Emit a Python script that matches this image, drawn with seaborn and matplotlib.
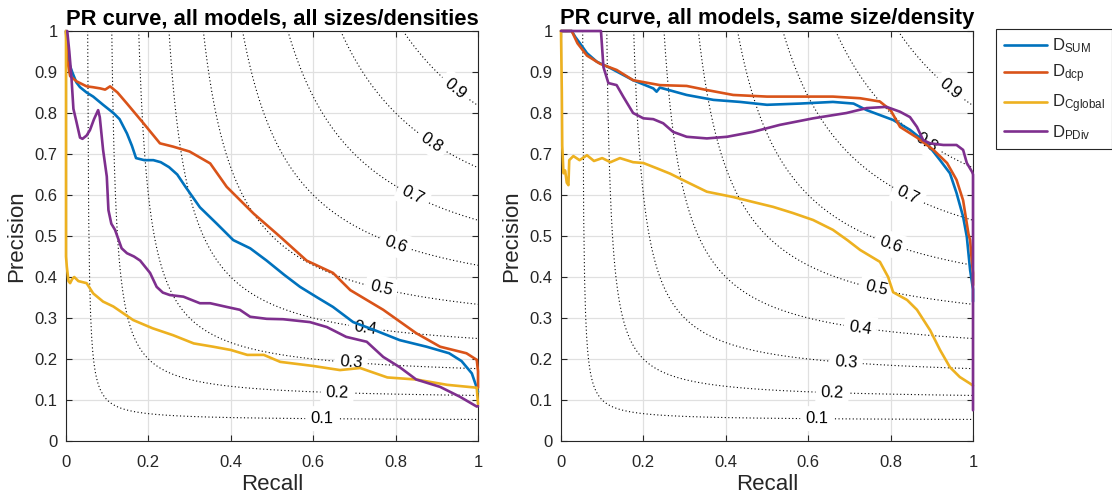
import numpy as np
import pandas as pd
import matplotlib
matplotlib.use("Agg")
import matplotlib.pyplot as plt
import seaborn as sns

# ---------------- data ----------------
MODELS = ["D$_{SUM}$", "D$_{dcp}$", "D$_{Cglobal}$", "D$_{PDiv}$"]
COLORS = ["#0072BD", "#D95319", "#EDB120", "#7E2F8E"]
TITLES = ["PR curve, all models, all sizes/densities",
          "PR curve, all models, same size/density"]
F_LEVELS = [0.9, 0.8, 0.7, 0.6, 0.5, 0.4, 0.3, 0.2, 0.1]
LABEL_RECALL = [0.944, 0.888, 0.842, 0.80, 0.765, 0.726, 0.692, 0.658, 0.621]
X_TICKS = [0, 0.2, 0.4, 0.6, 0.8, 1]
Y_TICKS = [0, 0.1, 0.2, 0.3, 0.4, 0.5, 0.6, 0.7, 0.8, 0.9, 1]

# left panel
sum_r_l = [0.0, 0.003, 0.008, 0.015, 0.025, 0.034, 0.05, 0.066, 0.09, 0.115, 0.13, 0.148, 0.16, 0.17,
           0.19, 0.212, 0.23, 0.25, 0.27, 0.29, 0.325, 0.366, 0.406, 0.447, 0.487, 0.53, 0.568, 0.61,
           0.648, 0.697, 0.75, 0.81, 0.875, 0.93, 0.96, 0.985, 0.997, 1.0]
sum_p_l = [1.0, 0.96, 0.92, 0.90, 0.875, 0.863, 0.85, 0.84, 0.82, 0.80, 0.785, 0.75, 0.72, 0.69,
           0.685, 0.685, 0.68, 0.668, 0.65, 0.62, 0.57, 0.53, 0.49, 0.47, 0.44, 0.405, 0.376, 0.35,
           0.327, 0.29, 0.27, 0.246, 0.23, 0.214, 0.195, 0.165, 0.13, 0.12]
dcp_r_l = [0.0, 0.003, 0.01, 0.026, 0.05, 0.065, 0.083, 0.095, 0.107, 0.125, 0.148, 0.188, 0.228, 0.26,
           0.30, 0.35, 0.39, 0.455, 0.52, 0.584, 0.648, 0.69, 0.77, 0.85, 0.908, 0.972, 0.997, 1.0, 1.0]
dcp_p_l = [1.0, 0.93, 0.89, 0.877, 0.865, 0.863, 0.86, 0.857, 0.865, 0.85, 0.823, 0.775, 0.726, 0.718,
           0.706, 0.677, 0.62, 0.555, 0.498, 0.44, 0.41, 0.368, 0.32, 0.263, 0.23, 0.214, 0.198, 0.17, 0.13]
cgl_r_l = [0.0, 0.0, 0.002, 0.006, 0.01, 0.015, 0.02, 0.03, 0.05, 0.066, 0.09, 0.115, 0.163, 0.21, 0.26,
           0.31, 0.357, 0.40, 0.44, 0.48, 0.52, 0.6, 0.665, 0.714, 0.78, 0.85, 0.925, 0.997, 1.0]
cgl_p_l = [1.0, 0.45, 0.425, 0.39, 0.385, 0.395, 0.40, 0.39, 0.385, 0.36, 0.34, 0.328, 0.295, 0.275,
           0.258, 0.238, 0.23, 0.222, 0.21, 0.21, 0.193, 0.183, 0.173, 0.178, 0.155, 0.15, 0.137, 0.13, 0.09]
pdv_r_l = [0.003, 0.008, 0.013, 0.018, 0.025, 0.034, 0.04, 0.05, 0.058, 0.068, 0.078, 0.082, 0.09, 0.099,
           0.103, 0.11, 0.119, 0.135, 0.148, 0.165, 0.18, 0.204, 0.22, 0.235, 0.252, 0.285, 0.325, 0.35,
           0.39, 0.422, 0.447, 0.487, 0.527, 0.592, 0.633, 0.68, 0.73, 0.77, 0.81, 0.85, 0.908, 0.956,
           0.997, 1.0]
pdv_p_l = [1.0, 0.95, 0.89, 0.81, 0.78, 0.74, 0.737, 0.745, 0.758, 0.785, 0.807, 0.79, 0.71, 0.645,
           0.563, 0.53, 0.515, 0.47, 0.458, 0.45, 0.44, 0.41, 0.376, 0.362, 0.356, 0.352, 0.336, 0.336,
           0.327, 0.32, 0.303, 0.298, 0.297, 0.29, 0.278, 0.254, 0.242, 0.205, 0.18, 0.15, 0.132, 0.108,
           0.084, 0.085]

# right panel
sum_r_r = [0.0, 0.026, 0.035, 0.046, 0.063, 0.087, 0.119, 0.175, 0.224, 0.232, 0.24, 0.305, 0.37, 0.435,
           0.50, 0.58, 0.66, 0.71, 0.742, 0.806, 0.847, 0.888, 0.92, 0.944, 0.96, 0.976, 0.985, 0.993,
           1.0, 1.0]
sum_p_r = [1.0, 1.0, 0.985, 0.97, 0.946, 0.925, 0.91, 0.88, 0.86, 0.852, 0.862, 0.844, 0.832, 0.827,
           0.82, 0.823, 0.827, 0.823, 0.807, 0.783, 0.759, 0.726, 0.685, 0.653, 0.605, 0.547, 0.498,
           0.417, 0.37, 0.34]
dcp_r_r = [0.0, 0.026, 0.04, 0.063, 0.095, 0.135, 0.175, 0.24, 0.305, 0.354, 0.418, 0.50, 0.58, 0.66,
           0.726, 0.774, 0.80, 0.823, 0.864, 0.904, 0.937, 0.96, 0.976, 0.989, 0.993, 0.997, 1.0, 1.0]
dcp_p_r = [1.0, 1.0, 0.97, 0.94, 0.92, 0.905, 0.88, 0.868, 0.866, 0.856, 0.844, 0.84, 0.84, 0.84,
           0.836, 0.828, 0.807, 0.766, 0.74, 0.71, 0.678, 0.637, 0.587, 0.505, 0.49, 0.44, 0.41, 0.38]
cgl_r_r = [0.0, 0.002, 0.003, 0.006, 0.01, 0.014, 0.018, 0.02, 0.03, 0.045, 0.063, 0.08, 0.1, 0.12,
           0.143, 0.175, 0.2, 0.233, 0.265, 0.305, 0.354, 0.418, 0.466, 0.515, 0.563, 0.612, 0.66,
           0.695, 0.726, 0.774, 0.794, 0.806, 0.84, 0.864, 0.896, 0.92, 0.944, 0.968, 0.993, 1.0]
cgl_p_r = [1.0, 0.85, 0.72, 0.653, 0.66, 0.63, 0.624, 0.685, 0.695, 0.685, 0.697, 0.683, 0.69, 0.68,
           0.69, 0.68, 0.678, 0.665, 0.652, 0.632, 0.608, 0.595, 0.583, 0.571, 0.556, 0.539, 0.515,
           0.49, 0.466, 0.437, 0.40, 0.363, 0.344, 0.32, 0.27, 0.222, 0.18, 0.156, 0.14, 0.135]
pdv_r_r = [0.0, 0.097, 0.103, 0.115, 0.135, 0.151, 0.175, 0.2, 0.224, 0.248, 0.272, 0.305, 0.354, 0.403,
           0.466, 0.531, 0.612, 0.693, 0.742, 0.79, 0.823, 0.847, 0.864, 0.879, 0.896, 0.928, 0.96,
           0.976, 0.985, 0.998, 1.0, 1.0]
pdv_p_r = [1.0, 1.0, 0.912, 0.873, 0.868, 0.84, 0.80, 0.787, 0.785, 0.775, 0.754, 0.742, 0.738, 0.742,
           0.754, 0.771, 0.787, 0.80, 0.812, 0.815, 0.803, 0.79, 0.766, 0.734, 0.726, 0.722, 0.722,
           0.71, 0.678, 0.656, 0.65, 0.075]

PANELS = [
    [(sum_r_l, sum_p_l), (dcp_r_l, dcp_p_l), (cgl_r_l, cgl_p_l), (pdv_r_l, pdv_p_l)],
    [(sum_r_r, sum_p_r), (dcp_r_r, dcp_p_r), (cgl_r_r, cgl_p_r), (pdv_r_r, pdv_p_r)],
]

# ---------------- style ----------------
sns.set_theme(style="whitegrid")
plt.rcParams["font.family"] = ["Liberation Sans", "DejaVu Sans"]
plt.rcParams["mathtext.default"] = "regular"
DARK = "#262626"

W, H = 1112, 497
fig = plt.figure(figsize=(W / 100, H / 100), dpi=100)
fig.patch.set_facecolor("white")
ax_rects = [(66, 31, 478, 441), (561, 31, 973, 441)]
axes = []
for (x0, y0, x1, y1) in ax_rects:
    axes.append(fig.add_axes([x0 / W, 1 - y1 / H, (x1 - x0) / W, (y1 - y0) / H]))

for k, ax in enumerate(axes):
    rows = []
    for name, (r, p) in zip(MODELS, PANELS[k]):
        for i, (ri, pi) in enumerate(zip(r, p)):
            rows.append({"Recall": ri, "Precision": pi, "model": name, "order": i})
    df = pd.DataFrame(rows)
    sns.lineplot(data=df, x="Recall", y="Precision", hue="model", palette=COLORS,
                 hue_order=MODELS, sort=False, estimator=None, units=None,
                 linewidth=1.9, ax=ax, legend=(k == 1), zorder=3)
    for ln in ax.get_lines():
        ln.set_clip_on(False)

    ax.set_xlim(0, 1)
    ax.set_ylim(0, 1)
    ax.set_facecolor("white")
    ax.set_axisbelow(True)
    ax.grid(True, color="#e0e0e0", linewidth=0.9)
    ax.set_xticks(X_TICKS)
    ax.set_yticks(Y_TICKS)
    ax.set_xticklabels([f"{t:g}" for t in X_TICKS])
    ax.set_yticklabels([f"{t:g}" for t in Y_TICKS])
    ax.tick_params(direction="in", length=4, width=0.8, colors=DARK, labelsize=12,
                   top=True, right=True, bottom=True, left=True)
    ax.tick_params(axis="x", pad=10)
    ax.tick_params(axis="y", pad=6)
    for s in ax.spines.values():
        s.set_color(DARK)
        s.set_linewidth(0.8)
        s.set_visible(True)
    ax.set_xlabel("Recall", fontsize=16, color=DARK, labelpad=3)
    ax.set_ylabel("Precision", fontsize=16, color=DARK, labelpad=5)
    ax.set_title(TITLES[k], fontsize=15.8, fontweight="bold", color="black", pad=5)

    # iso-F1 contours
    for f, rl in zip(F_LEVELS, LABEL_RECALL):
        rr = np.linspace(f / (2 - f), 1, 400)
        pp = f * rr / (2 * rr - f)
        ax.plot(rr, pp, linestyle=(0, (1, 2.2)), color="black", linewidth=0.8, zorder=1)
        pl = f * rl / (2 * rl - f)
        slope = -f ** 2 / (2 * rl - f) ** 2
        ang = np.degrees(np.arctan2(slope * 410, 412))
        ax.text(rl, pl, f"{f:g}", fontsize=12, color="black", rotation=ang,
                rotation_mode="anchor", ha="center", va="center", zorder=2,
                bbox=dict(boxstyle="square,pad=0.3", fc="white", ec="none"))

# legend
leg = axes[1].get_legend()
handles = leg.legend_handles
leg.remove()
fig.legend(handles, MODELS, loc="upper left", bbox_to_anchor=(996 / W, 1 - 29 / H),
           frameon=True, fancybox=False, framealpha=1, edgecolor=DARK, fontsize=12,
           handlelength=2.6, handletextpad=0.3, labelspacing=0.45, borderpad=0.45,
           borderaxespad=0)
for lh in fig.legends[0].get_lines():
    lh.set_linewidth(1.9)
fig.legends[0].get_frame().set_linewidth(0.8)

fig.savefig("out.png", dpi=100, facecolor="white")
